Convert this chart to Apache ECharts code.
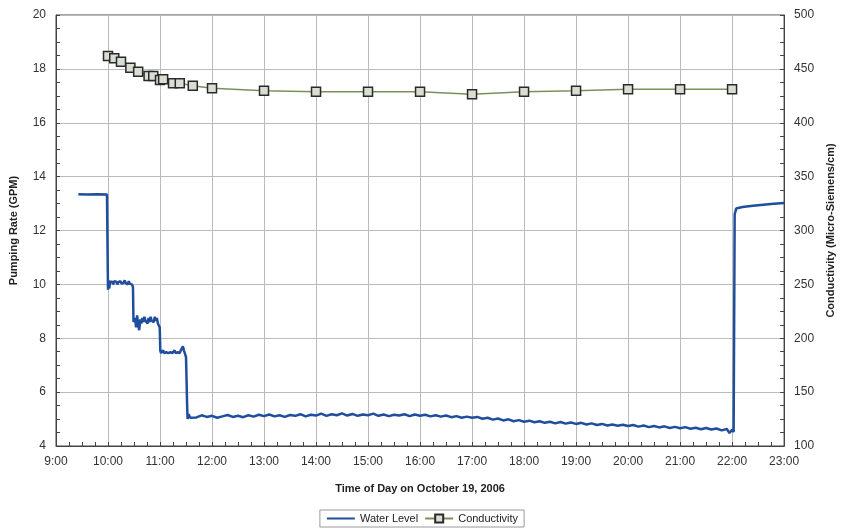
<!DOCTYPE html>
<html><head><meta charset="utf-8">
<script src="https://cdn.jsdelivr.net/npm/echarts@6/dist/echarts.min.js"></script>
<style>html,body{margin:0;padding:0;background:#fff}#c{width:844px;height:532px}</style>
</head><body><div id="c"></div>
<script>
// X tick labels (hours of day)
const xTickLabels = ['9:00','10:00','11:00','12:00','13:00','14:00','15:00','16:00','17:00','18:00','19:00','20:00','21:00','22:00','23:00'];
const leftTicks = [4, 6, 8, 10, 12, 14, 16, 18, 20];
const rightTicks = [100, 150, 200, 250, 300, 350, 400, 450, 500];

// Conductivity samples: time (decimal hours) and value (micro-Siemens/cm)
const condTimes = [10.0, 10.12, 10.25, 10.43, 10.58, 10.78, 10.87, 11.0, 11.06, 11.25, 11.38, 11.63, 12.0, 13, 14, 15, 16, 17, 18, 19, 20, 21, 22];
const condValues = [462, 459.8, 456.7, 451.1, 447.4, 443.4, 443.4, 439.7, 440.4, 436.6, 436.6, 434.4, 432, 429.7, 428.8, 428.8, 428.8, 426.4, 428.8, 429.7, 431, 431, 431];

// Water level (pumping rate, GPM) readings: [time in decimal hours, value]
const waterLevel = [
 [9.43,13.35],[9.6,13.34],[9.8,13.35],[9.98,13.34],
 [10.0,9.8],[10.01,10.15],[10.025,9.85],[10.04,10.1],[10.06,10.05],[10.08,10.1],[10.10,10.0],[10.12,10.12],
 [10.14,10.05],[10.16,10.1],[10.18,10.0],[10.20,10.08],[10.22,10.05],[10.24,10.12],[10.26,10.03],[10.28,10.1],
 [10.30,10.06],[10.32,10.15],[10.34,10.05],[10.36,10.1],[10.38,10.0],[10.40,10.12],[10.42,10.02],[10.44,10.08],
 [10.46,10.0],[10.48,9.9],[10.49,8.6],
 [10.50,8.55],[10.52,8.75],[10.54,8.4],[10.56,8.85],[10.58,8.5],[10.60,8.3],[10.62,8.7],[10.64,8.55],[10.66,8.75],
 [10.68,8.6],[10.70,8.8],[10.72,8.65],[10.74,8.7],[10.76,8.55],[10.78,8.75],[10.80,8.6],[10.82,8.8],[10.84,8.65],
 [10.86,8.7],[10.88,8.6],[10.90,8.8],[10.92,8.65],[10.94,8.75],[10.96,8.55],[10.98,8.5],[10.995,8.4],
 [11.005,7.55],[11.02,7.45],[11.04,7.5],[11.06,7.55],[11.08,7.45],[11.10,7.52],[11.12,7.48],[11.14,7.55],[11.16,7.45],
 [11.18,7.5],[11.20,7.48],[11.22,7.55],[11.24,7.45],[11.26,7.5],[11.28,7.55],[11.30,7.45],[11.32,7.5],[11.34,7.48],
 [11.36,7.52],[11.38,7.45],[11.40,7.55],[11.42,7.6],[11.44,7.7],[11.46,7.55],[11.48,7.5],[11.50,7.3],[11.51,6.5],
 [11.52,5.6],[11.53,5.0],[11.55,5.18],[11.58,5.05],
 [11.6,5.12],[11.7,5.06],[11.8,5.14],[11.9,5.08],[12.0,5.12],[12.1,5.05],[12.2,5.1],[12.3,5.15],[12.4,5.08],[12.5,5.12],
 [12.6,5.07],[12.7,5.14],[12.8,5.09],[12.9,5.16],[13.0,5.11],[13.1,5.17],[13.2,5.1],[13.3,5.14],[13.4,5.08],[13.5,5.15],
 [13.6,5.12],[13.7,5.18],[13.8,5.1],[13.9,5.16],[14.0,5.13],[14.1,5.2],[14.2,5.12],[14.3,5.18],[14.4,5.14],[14.5,5.21],
 [14.6,5.13],[14.7,5.19],[14.8,5.12],[14.9,5.17],[15.0,5.14],[15.1,5.2],[15.2,5.12],[15.3,5.17],[15.4,5.11],[15.5,5.16],
 [15.6,5.13],[15.7,5.18],[15.8,5.11],[15.9,5.17],[16.0,5.12],[16.1,5.16],[16.2,5.1],[16.3,5.14],[16.4,5.09],[16.5,5.13],
 [16.6,5.07],[16.7,5.11],[16.8,5.05],[16.9,5.09],[17.0,5.05],[17.1,5.08],[17.2,5.01],[17.3,5.05],[17.4,4.98],[17.5,5.02],
 [17.6,4.95],[17.7,4.99],[17.8,4.92],[17.9,4.96],[18.0,4.9],[18.1,4.94],[18.2,4.88],[18.3,4.92],[18.4,4.86],[18.5,4.9],
 [18.6,4.84],[18.7,4.89],[18.8,4.83],[18.9,4.87],[19.0,4.82],[19.1,4.86],[19.2,4.8],[19.3,4.84],[19.4,4.78],[19.5,4.82],
 [19.6,4.76],[19.7,4.8],[19.8,4.75],[19.9,4.79],[20.0,4.74],[20.1,4.78],[20.2,4.72],[20.3,4.76],[20.4,4.7],[20.5,4.74],
 [20.6,4.69],[20.7,4.73],[20.8,4.67],[20.9,4.71],[21.0,4.66],[21.1,4.7],[21.2,4.64],[21.3,4.68],[21.4,4.62],[21.5,4.67],
 [21.6,4.61],[21.7,4.65],[21.8,4.58],[21.9,4.63],[21.95,4.48],[22.0,4.6],[22.03,4.52],[22.05,12.6],[22.08,12.82],
 [22.2,12.87],[22.4,12.92],[22.6,12.96],[22.8,12.99],[23.0,13.02]
];

const chart = echarts.init(document.getElementById('c'), null, {renderer: 'canvas'});
const font = 'Liberation Sans, Arial, sans-serif';
const axisLabelStyle = {fontFamily: font, fontSize: 12, color: '#333'};
const nameStyle = {fontFamily: font, fontSize: 11, fontWeight: 'bold', color: '#222'};

chart.setOption({
  animation: false,
  backgroundColor: '#fff',
  grid: {left: 55, right: 54, top: 15, bottom: 86, show: true, borderColor: '#444', borderWidth: 1},
  legend: {
    bottom: 5, left: 'center',
    borderColor: '#999', borderWidth: 1, padding: [3, 6], itemGap: 6,
    itemWidth: 28, itemHeight: 10,
    textStyle: {fontFamily: font, fontSize: 11, color: '#222'},
    data: [{name: 'Water Level', itemStyle: {opacity: 0}}, {name: 'Conductivity'}]
  },
  xAxis: {
    type: 'value', min: 9, max: 23, interval: 1,
    name: 'Time of Day on October 19, 2006', nameLocation: 'middle', nameGap: 37,
    nameTextStyle: nameStyle,
    axisLine: {lineStyle: {color: '#444'}},
    axisTick: {inside: true, length: 4, lineStyle: {color: '#444'}},
    minorTick: {show: true, splitNumber: 4, length: 4, lineStyle: {color: '#444'}},
    axisLabel: Object.assign({margin: 10, formatter: v => xTickLabels[Math.round(v - 9)]}, axisLabelStyle),
    splitLine: {show: true, lineStyle: {color: '#bbb', width: 1}}
  },
  yAxis: [{
    type: 'value', min: leftTicks[0], max: leftTicks[leftTicks.length - 1], interval: 2,
    name: 'Pumping Rate (GPM)', nameLocation: 'middle', nameGap: 37, nameRotate: 90,
    nameTextStyle: nameStyle,
    axisLine: {show: true, lineStyle: {color: '#444'}},
    axisTick: {show: true, inside: true, length: 4, lineStyle: {color: '#444'}},
    minorTick: {show: true, splitNumber: 4, length: 4, lineStyle: {color: '#444'}},
    axisLabel: Object.assign({margin: 10}, axisLabelStyle),
    splitLine: {show: true, lineStyle: {color: '#bbb', width: 1}}
  }, {
    type: 'value', position: 'right', min: rightTicks[0], max: rightTicks[rightTicks.length - 1], interval: 50,
    name: 'Conductivity (Micro-Siemens/cm)', nameLocation: 'middle', nameGap: 40, nameRotate: 90,
    nameTextStyle: nameStyle,
    axisLine: {show: true, lineStyle: {color: '#444'}},
    axisTick: {show: true, inside: true, length: 4, lineStyle: {color: '#444'}},
    minorTick: {show: true, splitNumber: 4, length: 4, lineStyle: {color: '#444'}},
    axisLabel: Object.assign({margin: 10}, axisLabelStyle),
    splitLine: {show: false}
  }],
  series: [{
    name: 'Water Level', type: 'line', yAxisIndex: 0,
    data: waterLevel, showSymbol: false, symbol: 'none',
    lineStyle: {color: '#1f4e9c', width: 2.5}, itemStyle: {color: '#1f4e9c'}, z: 3
  }, {
    name: 'Conductivity', type: 'line', yAxisIndex: 1,
    data: condTimes.map((t, i) => [t, condValues[i]]),
    symbol: 'rect', symbolSize: 9,
    itemStyle: {color: '#d8ded4', borderColor: '#2a2a2a', borderWidth: 1.5},
    lineStyle: {color: '#7a9058', width: 1.5}, z: 4
  }]
});
</script></body></html>
